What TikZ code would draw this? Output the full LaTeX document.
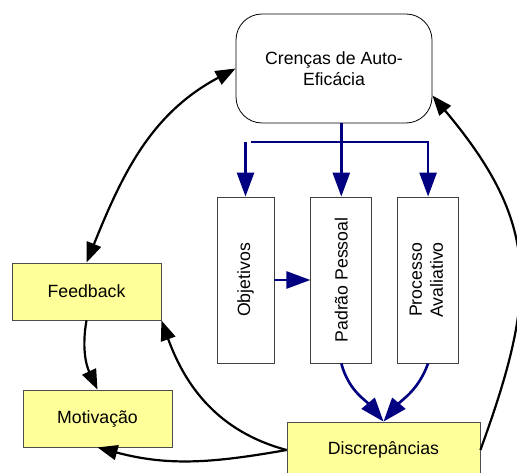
\documentclass[tikz,border=0pt]{standalone}
\usepackage{fontspec}
\setmainfont{Liberation Sans}
\usepackage{xcolor}
\usetikzlibrary{shapes.geometric, arrows.meta, positioning, calc}
\definecolor{notebox}{HTML}{FFFF99}
\definecolor{flowblue}{HTML}{000080}

\begin{document}
\begin{tikzpicture}[
    x=1pt, y=1pt,
    font=\fontsize{17.7}{21}\selectfont,
    belief/.style={rectangle, draw, rounded corners=26pt, fill=white, minimum width=196pt, minimum height=109pt, align=center, line width=0.8pt},
    stage/.style={rectangle, draw=black!75, fill=white, minimum width=61pt, minimum height=166pt, inner sep=0pt, line width=0.8pt},
    result/.style={rectangle, draw=black!70, fill=notebox, minimum width=149pt, minimum height=57pt, line width=0.8pt},
    arrow/.style={-{Triangle[length=20pt, width=15pt]}, line width=2.2pt},
    both/.style={{Triangle[length=20pt, width=15pt]}-{Triangle[length=20pt, width=15pt]}, line width=2.2pt},
    flow/.style={-{Triangle[length=24pt, width=17pt]}, draw=flowblue, line width=2.6pt}
]
    \useasboundingbox (0,0) rectangle (517,473);

    % Beliefs
    \node[belief] (cren) at (334,404.5) {Crenças de Auto-\\Eficácia};

    % Self-regulation stages
    \node[stage, minimum width=57pt] (obj) at (245.5,193) {\rotatebox{90}{Objetivos}};
    \node[stage, right=36pt of obj] (padrao) {\rotatebox{90}{Padrão Pessoal}};
    \node[stage, right=25pt of padrao] (proc) {\rotatebox{90}{\begin{tabular}{@{}c@{}}Processo\\Avaliativo\end{tabular}}};

    % Outcomes
    \node[result] (feed) at (86.5,181.5) {Feedback};
    \node[result] (motiv) at (97.5,54.5) {Motivação};
    \node[result, minimum width=193pt, minimum height=56pt] (disc) at (383.5,23) {Discrepâncias};

    % Beliefs and feedback
    \draw[both] (cren.west) to[out=208, in=68] (feed.north);

    % Beliefs to stages
    \coordinate (split) at (0,331);
    \draw[flow] (cren.south -| padrao.north) -- (padrao.north);
    \draw[flow] (obj.north |- split) -- (obj.north);
    \draw[flow] ($(obj.north |- split)+(5,0)$) -| (proc.north);
    \draw[flow] (obj.east) -- (padrao.west);
    \draw[flow] (padrao.south) to[out=-75, in=130] (disc.north);
    \draw[flow] (proc.south) to[out=-110, in=50] (disc.north);

    % Loop back
    \draw[arrow] (feed.south) to[out=-100, in=115] (motiv.north);
    \draw[arrow] (disc.west) to[out=165, in=-70] (feed.south east);
    \draw[arrow] (disc.west) to[out=190, in=-15] (motiv.south);
    \draw[arrow] (disc.east) to[out=70, in=-50, looseness=1.2] ([yshift=-27pt]cren.east);
\end{tikzpicture}
\end{document}
